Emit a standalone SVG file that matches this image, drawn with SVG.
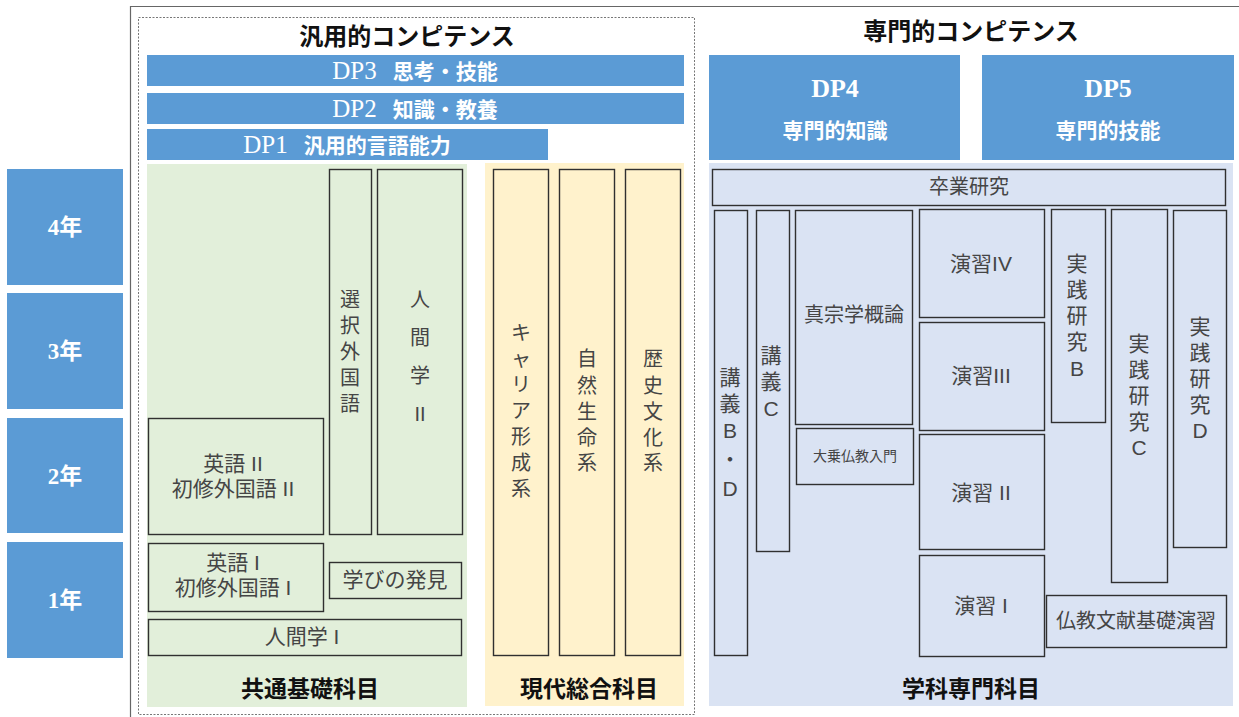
<svg xmlns="http://www.w3.org/2000/svg" width="1239" height="717" viewBox="0 0 1239 717">
<style>
.dp{fill:#5B9BD5}
.box{fill:none;stroke:#303030;stroke-width:1.4}
.t{font-family:"Liberation Sans","Noto Sans CJK JP",sans-serif;font-size:20px;fill:#454545;text-anchor:middle}
.lab{font-family:"Noto Sans CJK JP","Liberation Sans",sans-serif;font-size:23px;font-weight:bold;fill:#111;text-anchor:middle}
.ttl{font-size:24px}
.w{fill:#fff;text-anchor:middle}
.ser{font-family:"Liberation Serif","Noto Sans CJK JP",serif}
.gs{font-family:"Noto Sans CJK JP","Liberation Sans",sans-serif;font-weight:bold}
.yr{font-size:23px;font-weight:bold}
.dpb{font-size:25px}
.dpj{font-size:21px}
</style>
<rect width="1239" height="717" fill="#fff"/>
<g id="frame">
<path d="M130.5 717 V6.5 H1239" fill="none" stroke="#666" stroke-width="1.2"/>
<rect x="138.5" y="17.5" width="556" height="697" fill="none" stroke="#777" stroke-width="1" stroke-dasharray="2 1.5"/>
</g>
<g id="titles">
<text class="lab ttl" x="407" y="45">汎用的コンピテンス</text>
<text class="lab ttl" x="971" y="40">専門的コンピテンス</text>
</g>
<g id="dp3"><rect class="dp" x="147" y="55" width="537" height="31"/>
<text class="w" x="415" y="79"><tspan class="ser dpb">DP3</tspan><tspan class="gs dpj" dx="16">思考・技能</tspan></text></g>
<g id="dp2"><rect class="dp" x="147" y="93" width="537" height="31"/>
<text class="w" x="415" y="117"><tspan class="ser dpb">DP2</tspan><tspan class="gs dpj" dx="16">知識・教養</tspan></text></g>
<g id="dp1"><rect class="dp" x="147" y="129" width="401" height="31"/>
<text class="w" x="347" y="153"><tspan class="ser dpb">DP1</tspan><tspan class="gs dpj" dx="16">汎用的言語能力</tspan></text></g>
<g id="dp4"><rect class="dp" x="709" y="55" width="251" height="105"/>
<text class="w ser" x="835" y="97" style="font-size:26px;font-weight:bold">DP4</text>
<text class="w gs dpj" x="835" y="138">専門的知識</text></g>
<g id="dp5"><rect class="dp" x="982" y="55" width="252" height="105"/>
<text class="w ser" x="1108" y="97" style="font-size:26px;font-weight:bold">DP5</text>
<text class="w gs dpj" x="1108" y="138">専門的技能</text></g>
<g id="y4"><rect class="dp" x="7" y="169" width="116" height="116"/><text class="w ser yr" x="65" y="235">4年</text></g>
<g id="y3"><rect class="dp" x="7" y="293" width="116" height="116"/><text class="w ser yr" x="65" y="359">3年</text></g>
<g id="y2"><rect class="dp" x="7" y="418" width="116" height="115"/><text class="w ser yr" x="65" y="484">2年</text></g>
<g id="y1"><rect class="dp" x="7" y="542" width="116" height="116"/><text class="w ser yr" x="65" y="608">1年</text></g>

<g id="common">
<rect x="147" y="164" width="320" height="543" fill="#E2EFDA"/>
<text class="lab" x="310" y="697">共通基礎科目</text>
</g>
<g id="sentaku"><rect class="box" x="329.5" y="169.5" width="42" height="365"/>
<text class="t"><tspan x="350" y="307">選</tspan><tspan x="350" y="333">択</tspan><tspan x="350" y="359">外</tspan><tspan x="350" y="385">国</tspan><tspan x="350" y="411">語</tspan></text></g>
<g id="ningen2"><rect class="box" x="377.5" y="169.5" width="85" height="365"/>
<text class="t"><tspan x="420" y="307">人</tspan><tspan x="420" y="345">間</tspan><tspan x="420" y="383">学</tspan><tspan x="420" y="421">II</tspan></text></g>
<g id="eigo2"><rect class="box" x="148.5" y="418.5" width="175" height="116"/>
<text class="t" style="font-size:21px"><tspan x="233" y="471">英語 II</tspan><tspan x="233" y="496">初修外国語 II</tspan></text></g>
<g id="eigo1"><rect class="box" x="148.5" y="543.5" width="175" height="68"/>
<text class="t" style="font-size:21px"><tspan x="233" y="570">英語 I</tspan><tspan x="233" y="595">初修外国語 I</tspan></text></g>
<g id="manabi"><rect class="box" x="329.5" y="562.5" width="132" height="36"/>
<text class="t" x="395" y="587" style="font-size:21px">学びの発見</text></g>
<g id="ningen1"><rect class="box" x="148.5" y="619.5" width="313" height="36"/>
<text class="t" x="302" y="644" style="font-size:21px">人間学 I</text></g>

<g id="gendai">
<rect x="485" y="163" width="199" height="543" fill="#FFF2CC"/>
<text class="lab" x="589" y="697">現代総合科目</text>
</g>
<g id="career"><rect class="box" x="493.5" y="169.5" width="55" height="486"/>
<text class="t"><tspan x="521" y="340">キ</tspan><tspan x="521" y="366">ャ</tspan><tspan x="521" y="392">リ</tspan><tspan x="521" y="418">ア</tspan><tspan x="521" y="444">形</tspan><tspan x="521" y="470">成</tspan><tspan x="521" y="496">系</tspan></text></g>
<g id="shizen"><rect class="box" x="559.5" y="169.5" width="55" height="486"/>
<text class="t"><tspan x="587" y="366">自</tspan><tspan x="587" y="393">然</tspan><tspan x="587" y="419">生</tspan><tspan x="587" y="445">命</tspan><tspan x="587" y="470">系</tspan></text></g>
<g id="rekishi"><rect class="box" x="625.5" y="169.5" width="55" height="486"/>
<text class="t"><tspan x="653" y="366">歴</tspan><tspan x="653" y="393">史</tspan><tspan x="653" y="419">文</tspan><tspan x="653" y="445">化</tspan><tspan x="653" y="470">系</tspan></text></g>

<g id="senmon">
<rect x="709" y="163" width="524" height="543" fill="#DAE3F3"/>
<text class="lab" x="971" y="697">学科専門科目</text>
</g>
<g id="sotsugyo"><rect class="box" x="712.5" y="169.5" width="513" height="36"/>
<text class="t" x="969" y="194">卒業研究</text></g>
<g id="kogiBD"><rect class="box" x="714.5" y="210.5" width="33" height="445"/>
<text class="t" style="font-size:21px"><tspan x="730" y="385">講</tspan><tspan x="730" y="411">義</tspan><tspan x="730" y="438">B</tspan><tspan x="730" y="467">・</tspan><tspan x="730" y="496">D</tspan></text></g>
<g id="kogiC"><rect class="box" x="756.5" y="210.5" width="33" height="341"/>
<text class="t" style="font-size:21px"><tspan x="771" y="363">講</tspan><tspan x="771" y="389">義</tspan><tspan x="771" y="416">C</tspan></text></g>
<g id="shinshu"><rect class="box" x="795.5" y="210.5" width="117" height="214"/>
<text class="t" x="854" y="322">真宗学概論</text></g>
<g id="daijo"><rect class="box" x="796.5" y="428.5" width="117" height="56"/>
<text class="t" x="855" y="461" style="font-size:14px">大乗仏教入門</text></g>
<g id="ensyu4"><rect class="box" x="919.5" y="209.5" width="125" height="108"/>
<text class="t" x="981" y="271" style="font-size:21px">演習IV</text></g>
<g id="ensyu3"><rect class="box" x="919.5" y="322.5" width="125" height="108"/>
<text class="t" x="981" y="383" style="font-size:21px">演習III</text></g>
<g id="ensyu2"><rect class="box" x="919.5" y="434.5" width="125" height="115"/>
<text class="t" x="981" y="500" style="font-size:21px">演習 II</text></g>
<g id="ensyu1"><rect class="box" x="919.5" y="555.5" width="125" height="101"/>
<text class="t" x="981" y="613" style="font-size:21px">演習 I</text></g>
<g id="jissenB"><rect class="box" x="1051.5" y="209.5" width="54" height="213"/>
<text class="t" style="font-size:21px"><tspan x="1077" y="271">実</tspan><tspan x="1077" y="297">践</tspan><tspan x="1077" y="323">研</tspan><tspan x="1077" y="349">究</tspan><tspan x="1077" y="376">B</tspan></text></g>
<g id="jissenC"><rect class="box" x="1111.5" y="209.5" width="56" height="373"/>
<text class="t" style="font-size:21px"><tspan x="1139" y="351">実</tspan><tspan x="1139" y="377">践</tspan><tspan x="1139" y="403">研</tspan><tspan x="1139" y="429">究</tspan><tspan x="1139" y="455">C</tspan></text></g>
<g id="jissenD"><rect class="box" x="1173.5" y="210.5" width="53" height="337"/>
<text class="t" style="font-size:21px"><tspan x="1200" y="334">実</tspan><tspan x="1200" y="360">践</tspan><tspan x="1200" y="386">研</tspan><tspan x="1200" y="412">究</tspan><tspan x="1200" y="438">D</tspan></text></g>
<g id="bukkyo"><rect class="box" x="1046.5" y="595.5" width="180" height="52"/>
<text class="t" x="1136" y="628">仏教文献基礎演習</text></g>
<g id="connectors"></g>
</svg>
